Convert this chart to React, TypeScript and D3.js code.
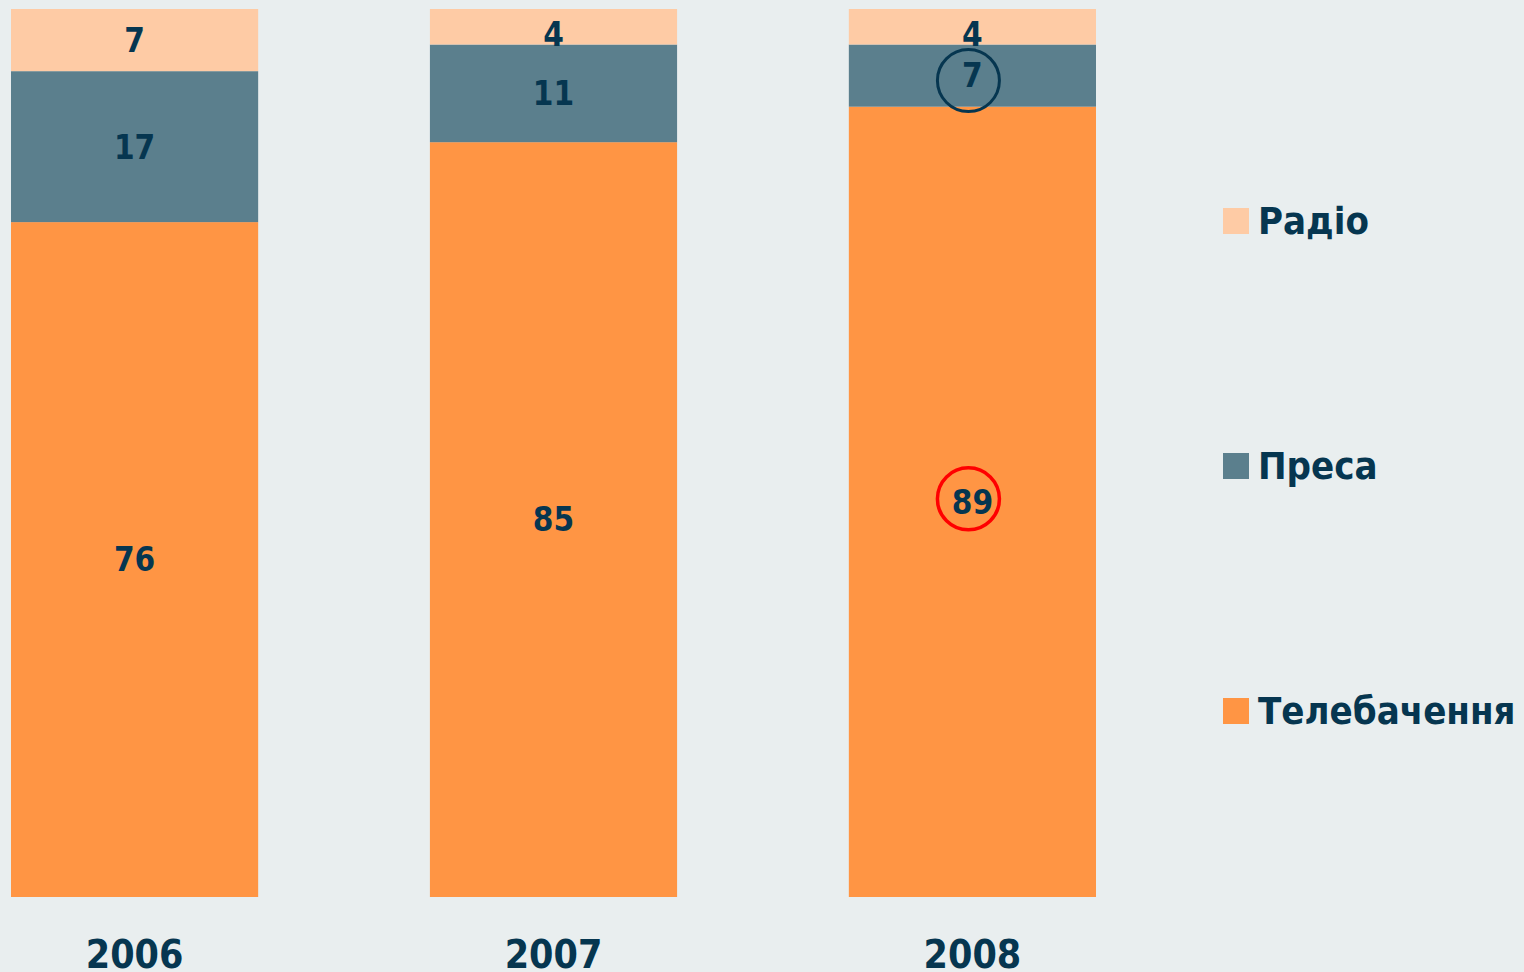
import React, { useEffect, useRef } from "react";
import * as d3 from "d3";

const years = ["2006", "2007", "2008"];
const seriesNames = ["Телебачення", "Преса", "Радіо"];
const tvValues = [76, 85, 89];
const pressValues = [17, 11, 7];
const radioValues = [7, 4, 4];
const seriesColors = ["#FF9544", "#5B7F8D", "#FECBA5"];

const W = 1524;
const H = 972;
const FONT = '"DejaVu Sans Condensed", "DejaVu Sans", sans-serif';
const TEXT = "#063650";

export default function App() {
  const ref = useRef<SVGSVGElement | null>(null);

  useEffect(() => {
    document.body.style.margin = "0";
    const svg = d3.select(ref.current);
    svg.selectAll("*").remove();

    svg.append("rect").attr("width", W).attr("height", H).attr("fill", "#E9EEEF");

    const rows = years.map((y, i) => ({
      year: y,
      "Телебачення": tvValues[i],
      "Преса": pressValues[i],
      "Радіо": radioValues[i],
    }));

    const x = d3.scaleBand().domain(years).range([11, 1096]).paddingInner(0.41).paddingOuter(0);
    const y = d3.scaleLinear().domain([0, 100]).range([897, 9]);
    const color = d3.scaleOrdinal<string, string>().domain(seriesNames).range(seriesColors);

    const stack = d3.stack<any>().keys(seriesNames);
    const stacked = stack(rows);

    const g = svg.append("g");
    stacked.forEach((layer) => {
      layer.forEach((seg: any) => {
        const yr = seg.data.year;
        g.append("rect")
          .attr("x", x(yr)!)
          .attr("width", x.bandwidth())
          .attr("y", y(seg[1]))
          .attr("height", y(seg[0]) - y(seg[1]))
          .attr("fill", color(layer.key));
      });
    });

    const fs = 33;
    stacked.forEach((layer) => {
      layer.forEach((seg: any) => {
        const yr = seg.data.year;
        const top = y(seg[1]);
        const mid = Math.max((y(seg[0]) + y(seg[1])) / 2, top + 25);
        g.append("text")
          .attr("x", x(yr)! + x.bandwidth() / 2)
          .attr("y", mid + 0.36 * fs)
          .attr("text-anchor", "middle")
          .attr("font-family", FONT)
          .attr("font-stretch", "condensed")
          .attr("font-weight", "bold")
          .attr("font-size", fs)
          .attr("fill", TEXT)
          .text(String(seg[1] - seg[0]));
      });
    });

    // year labels
    years.forEach((yr) => {
      svg.append("text")
        .attr("x", x(yr)! + x.bandwidth() / 2)
        .attr("y", 968)
        .attr("text-anchor", "middle")
        .attr("font-family", FONT)
        .attr("font-stretch", "condensed")
        .attr("font-weight", "bold")
        .attr("font-size", 39)
        .attr("fill", TEXT)
        .text(yr);
    });

    // highlight circles on 2008
    const last = years[2];
    const cx = x(last)! + x.bandwidth() / 2 - 4;
    const pressLayer = stacked[1][2];
    const tvLayer = stacked[0][2];
    svg.append("circle")
      .attr("cx", cx)
      .attr("cy", (y(pressLayer[0]) + y(pressLayer[1])) / 2 + 5)
      .attr("r", 31)
      .attr("fill", "none")
      .attr("stroke", TEXT)
      .attr("stroke-width", 3);
    svg.append("circle")
      .attr("cx", cx)
      .attr("cy", (y(tvLayer[0]) + y(tvLayer[1])) / 2 - 3)
      .attr("r", 31)
      .attr("fill", "none")
      .attr("stroke", "#FF0000")
      .attr("stroke-width", 3.5);

    // legend
    const legendOrder = ["Радіо", "Преса", "Телебачення"];
    const legendY = [221, 466, 711];
    legendOrder.forEach((name, i) => {
      svg.append("rect")
        .attr("x", 1223)
        .attr("y", legendY[i] - 13)
        .attr("width", 26)
        .attr("height", 26)
        .attr("fill", color(name));
      svg.append("text")
        .attr("x", 1258)
        .attr("y", legendY[i] + 13)
        .attr("font-family", FONT)
        .attr("font-stretch", "condensed")
        .attr("font-weight", "bold")
        .attr("font-size", 38)
        .attr("fill", TEXT)
        .text(name);
    });
  }, []);

  return (
    <svg
      ref={ref}
      width={W}
      height={H}
      style={{ position: "absolute", left: 0, top: 0, display: "block" }}
    />
  );
}
